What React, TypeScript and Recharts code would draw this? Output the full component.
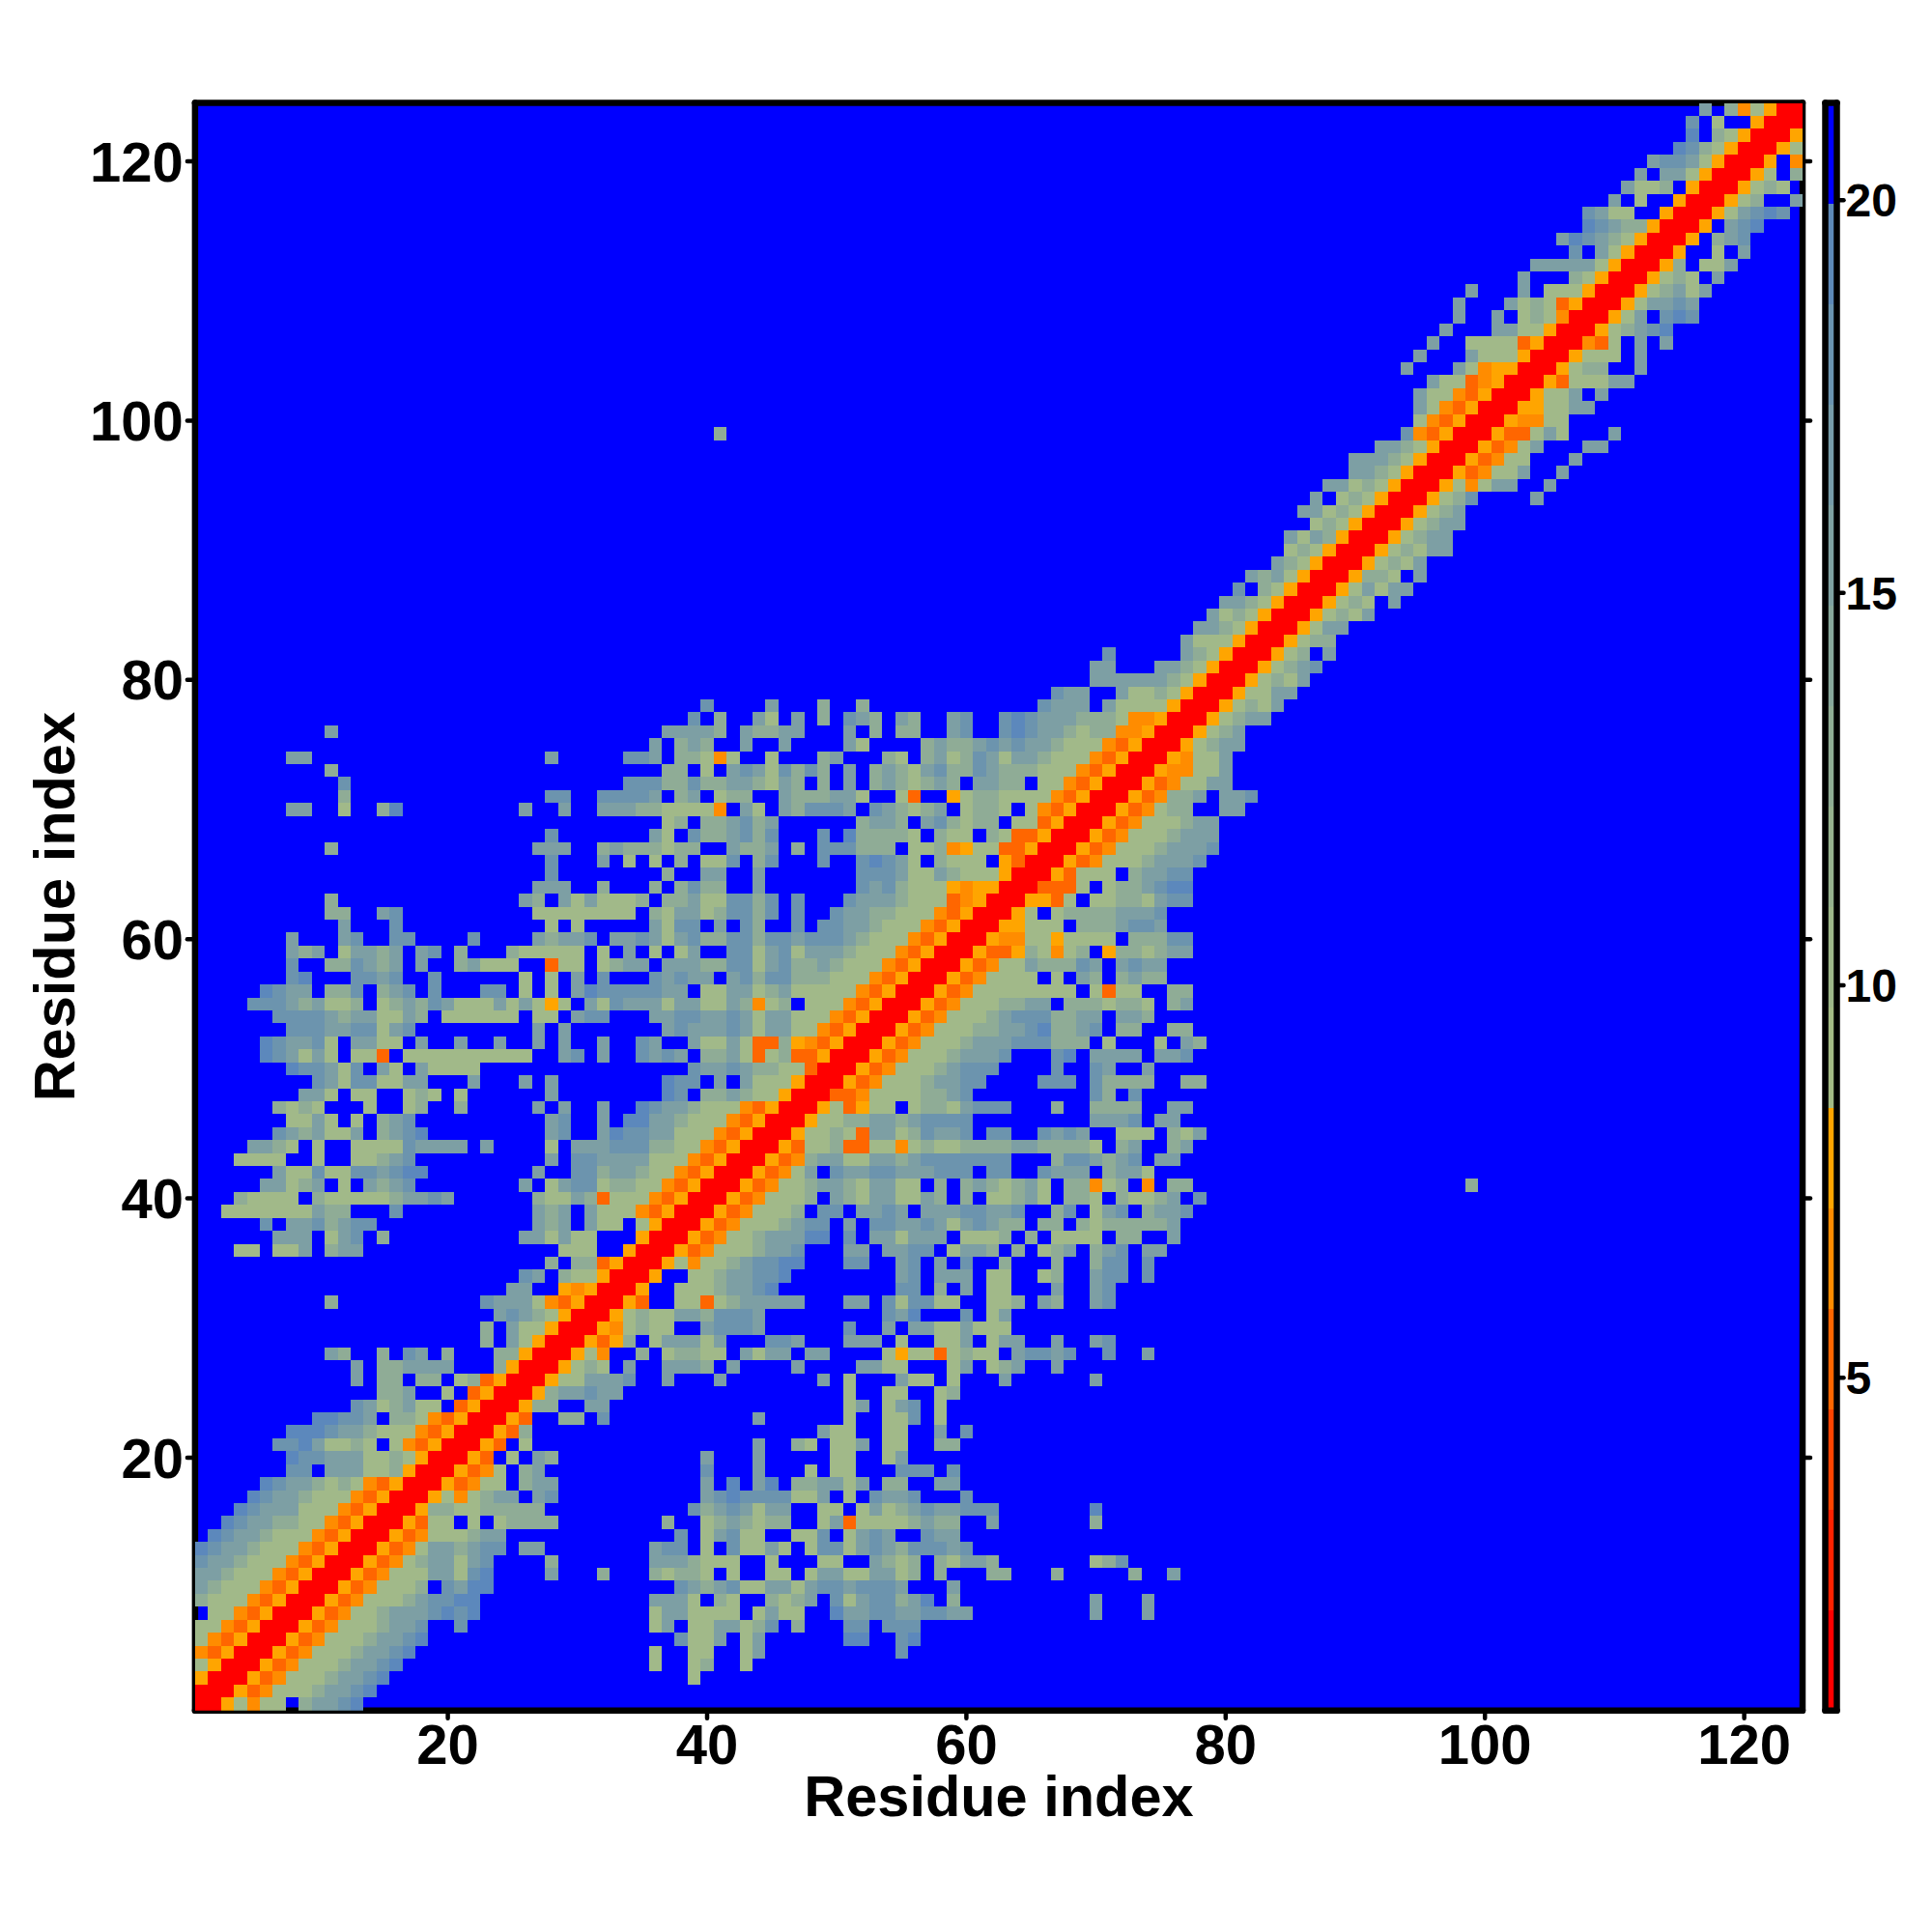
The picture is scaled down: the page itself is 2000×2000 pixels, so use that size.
import { Bar, BarChart, CartesianGrid, Scatter, ScatterChart, XAxis, YAxis } from 'recharts';

// contact map is symmetric, so only the part with x >= y is listed.
// each row is "startX:codes" runs; '.' = background, 1-5 = slate to sage, 6-9 = amber to red
const upperRows: string[] = [
  '1:9965755.43321',
  '2:9968755543321',
  '3:9968755543321 39:5',
  '4:9968755543321 36:5 39:54 43:5',
  '5:9968755543321 36:5 39:55 43:53 55:2',
  '6:9968755543321 38:2553 43:53 51:11 55:21',
  '7:996875554332 21:2 36:53.5533542.4 51:22.222',
  '8:996875543332121 36:5335555.5355 50:13322332233 70:3 74:3',
  '9:99687555432211 36:3335.45..4543.25322431.4 70:3 74:3',
  '10:996875554.2311 38:234325533532232223 59:3',
  '11:9968755533521 28:3 32:4 36:45445.5..55.533553354.4 62:44 67:4 73:4 76:3',
  '12:996875433532 28:4 36:3334555..5...55..3454.45334 70:542',
  '13:996875334322 26:33 36:322.5.25535.5225323422232',
  '14:99687555433 38:2.53255..552.5323..233',
  '15:996855.5.54444 37:4 40:5434544..53855554344 62:3 70:4',
  '16:996445544444 39:24323533..55.53543233222 70:1',
  '17:996575433.32 40:3212222553.5.2332...2',
  '18:9968755.433 40:3.1.31.443353.44..33',
  '19:996875.43 40:2 44:3 48:5 50:55 55:222 59:2',
  '20:9968.5.34 40:3 44:3 50:55 54:53',
  '21:9968.5 44:3 47:45 50:553 54:55 58:44',
  '22:99684 49:355 54:55 58:3 60:2',
  '23:9968 29:44 32:2 44:3 51:5 54:552 58:5',
  '24:99644..33 51:53 54:532 58:5',
  '25:996433233 51:5 54:55 58:54',
  '26:996553332 37:3 41:3 49:3 51:5 55:355 59:5 63:3 70:3',
  '27:996545.3 37:3334 42:3 47:3 52:3355 59:53 62:543 67:3',
  '28:99657..4.54455.3533.33....565585455.32232 71:2 74:3',
  '29:996864.533353 45:223 51:333 55:5 58:553 62:533 67:3 70:32',
  '30:99675455..32223 51:2 54:3 56:33553555',
  '31:99654553342223 54:231 60:2 62:53',
  '32:9968..5585433333 51:33 54:2522 58:55 62:554 66:34 70:32',
  '33:996..55543321 55:22 58:4 60:3 62:55 67:3 70:32',
  '34:996..55433221 55:32 58:333 62:55 66:54 70:322 74:2',
  '35:9965755432211 51:22 55:32 58:3 60:2 63:4 67:4 70:422 74:2',
  '36:996875554332 51:33 54:3322 59:5334 64:4 66:543 70:432 74:33',
  '37:9968755433311 51:2 53:335333 60:5554 65:4 67:5555 72:44 76:3',
  '38:996875554322 51:3 53:223323532344 66:44 69:45444443',
  '39:996875554.22.3323.33322332 67:42 70:532 74:4332',
  '40:996875554.345335534.4.55435.445.45543.2',
  '41:9968755433453355.4.4345435.44754.7.44 99:4',
  '42:9968753.23322333222.22..2333.4335',
  '43:996874335533432222222...4223432.33',
  '44:996855488557545544443344445.43..43',
  '45:9965545833542332.22..2323..555.453',
  '46:996554433432222 70:3332.33',
  '47:99658655.54453222...4 70:4444 76:33',
  '48:9988755554432 70:24.2',
  '49:9968755543322 66:222 70:24444 77:44',
  '50:9968755543222 67:2 70:23 74:3',
  '51:9968755543332 67:21 70:3333 75:332',
  '52:996875554333222444.5 75:5 77:34',
  '53:996875554433214432.44..44',
  '54:99687555432224433.334',
  '55:996875554433.4445445.43',
  '56:9968755555555.5855..44',
  '57:996875555.5.34.4344',
  '58:9968755344423.3233',
  '59:99688645754.6445433',
  '60:996775565555.44422',
  '61:9966555.4443223',
  '62:9965.544443332',
  '63:996685.55445322',
  '64:998885.5443211',
  '65:9968555.43322',
  '66:9968755543332',
  '67:9968755543332',
  '68:996875554333',
  '69:99687555433',
  '70:99687544..33',
  '71:99687443.332',
  '72:996875533',
  '73:99677553',
  '74:9967553',
  '75:9965433',
  '76:996543',
  '77:9965433',
  '78:9965453',
  '79:9965533',
  '80:9965453',
  '81:9965432',
  '82:99654.3',
  '83:996544',
  '84:996533',
  '85:9965453',
  '86:996545.3',
  '87:99653533',
  '88:996445.3',
  '89:9965453',
  '90:99654533',
  '91:9965433',
  '92:9965433',
  '93:996543',
  '94:996542 104:3',
  '95:99657533 105:3',
  '96:99687553..3',
  '97:9968755...3',
  '98:9968753 108:33',
  '99:99688535 110:3',
  '100:9967755',
  '101:99665533',
  '102:996553.3',
  '103:996855533',
  '104:996544..3',
  '105:996555.3',
  '106:99785.3.3',
  '107:99654321',
  '108:99653.212',
  '109:99653323',
  '110:99654353',
  '111:996545.3',
  '112:9964.553',
  '113:996..5.3',
  '114:996.432',
  '115:996.321',
  '116:99653212',
  '117:99654..3',
  '118:996545',
  '119:9965.4',
  '120:996.7',
  '121:9965',
  '122:996',
  '123:99',
  '124:9',
];

const cellColors: Record<string, string> = {
  '1': '#5c88bc',
  '2': '#6c94ae',
  '3': '#7d9fa4',
  '4': '#8fac96',
  '5': '#a1b989',
  '6': '#ffa500',
  '7': '#ff8c00',
  '8': '#ff6600',
  '9': '#ff0000',
};

const axisTicks = [20, 40, 60, 80, 100, 120];
const scaleTicks = [5, 10, 15, 20];
const scaleMin = 0.76;
const scaleMax = 21.24;
const scaleStep = 1.28;
const scaleColors = [
  '#ff0000', '#ff2200', '#ff4400', '#ff6600', '#ff8c00', '#ffa500',
  '#a3bb85', '#9db789', '#96b28e', '#8fad94', '#87a89b', '#7fa2a2',
  '#769ca9', '#6a94b0', '#5d89b8', '#0000ff',
];

const FONT = '"Liberation Sans", Arial, sans-serif';
const PLOT_LEFT = 201.9;
const PLOT_TOP = 106.6;
const PLOT_SIZE = 1664.1;
const CELL = PLOT_SIZE / 124;

type HeatCell = { x: number; y: number; code: string };

function buildCells(): HeatCell[] {
  const cells: HeatCell[] = [];
  upperRows.forEach((row, i) => {
    const y = i + 1;
    row.split(' ').forEach((segment) => {
      const [start, codes] = segment.split(':');
      codes.split('').forEach((code, j) => {
        if (code === '.') return;
        const x = Number(start) + j;
        cells.push({ x, y, code });
        if (x !== y) cells.push({ x: y, y: x, code });
      });
    });
  });
  return cells;
}

const heatCells = buildCells();
const scaleRow: Record<string, number | string> = { name: 'scale' };
scaleColors.forEach((_, i) => {
  scaleRow[`level${i}`] = i === 0 ? scaleMin + scaleStep : scaleStep;
});

const borderLine = { stroke: '#000', strokeWidth: 6.5, strokeLinecap: 'round' as const };
const tickMark = { stroke: '#000', strokeWidth: 4.5, strokeLinecap: 'round' as const };
const blank = () => '';

function HeatSquare(props: any) {
  const { cx, cy, payload } = props;
  return (
    <rect
      x={cx - CELL / 2}
      y={cy - CELL / 2}
      width={CELL}
      height={CELL}
      fill={cellColors[payload.code]}
      shapeRendering="crispEdges"
    />
  );
}

export default function App() {
  return (
    <div style={{ position: 'absolute', left: 0, top: 0, width: 2000, height: 2000, background: '#fff' }}>
      <div style={{ position: 'absolute', left: 0, top: 0 }}>
        <ScatterChart width={2000} height={2000} margin={{ top: 0, right: 0, bottom: 0, left: 0 }}>
          <CartesianGrid horizontal={false} vertical={false} fill="#0000ff" />
          <XAxis
            dataKey="x"
            type="number"
            domain={[0.5, 124.5]}
            ticks={axisTicks}
            height={2000 - PLOT_TOP - PLOT_SIZE}
            axisLine={borderLine}
            tickLine={tickMark}
            tickSize={8}
            tickMargin={6}
            allowDataOverflow
            tick={{ fill: '#000', fontSize: 58, fontWeight: 700, fontFamily: FONT }}
            label={{
              value: 'Residue index',
              position: 'insideBottom',
              offset: 120,
              fill: '#000',
              fontSize: 59.5,
              fontWeight: 700,
              fontFamily: FONT,
            }}
          />
          <XAxis
            xAxisId="top"
            orientation="top"
            type="number"
            domain={[0.5, 124.5]}
            ticks={axisTicks}
            height={PLOT_TOP}
            axisLine={borderLine}
            tickLine={tickMark}
            tickSize={8}
            tickFormatter={blank}
            allowDataOverflow
          />
          <YAxis
            dataKey="y"
            type="number"
            domain={[0.5, 124.5]}
            ticks={axisTicks}
            width={PLOT_LEFT}
            axisLine={borderLine}
            tickLine={tickMark}
            tickSize={8}
            tickMargin={4}
            allowDataOverflow
            tick={{ fill: '#000', fontSize: 58, fontWeight: 700, fontFamily: FONT }}
            label={{
              value: 'Residue index',
              angle: -90,
              position: 'insideLeft',
              offset: 56,
              fill: '#000',
              fontSize: 59.5,
              fontWeight: 700,
              fontFamily: FONT,
              style: { textAnchor: 'middle' },
            }}
          />
          <YAxis
            yAxisId="right"
            orientation="right"
            type="number"
            domain={[0.5, 124.5]}
            ticks={axisTicks}
            width={2000 - PLOT_LEFT - PLOT_SIZE}
            axisLine={borderLine}
            tickLine={tickMark}
            tickSize={8}
            tickFormatter={blank}
            allowDataOverflow
          />
          <Scatter data={heatCells} shape={HeatSquare} isAnimationActive={false} />
        </ScatterChart>
      </div>
      <div style={{ position: 'absolute', left: 1880, top: 0 }}>
        <BarChart
          width={120}
          height={2000}
          data={[scaleRow]}
          barCategoryGap={0}
          margin={{ top: 0, right: 0, bottom: 0, left: 0 }}
        >
          <XAxis
            dataKey="name"
            height={2000 - PLOT_TOP - PLOT_SIZE}
            axisLine={borderLine}
            tickLine={false}
            tickFormatter={blank}
          />
          <XAxis
            xAxisId="top"
            dataKey="name"
            orientation="top"
            height={PLOT_TOP}
            axisLine={borderLine}
            tickLine={false}
            tickFormatter={blank}
          />
          <YAxis
            type="number"
            width={9.5}
            domain={[scaleMin, scaleMax]}
            ticks={scaleTicks}
            axisLine={borderLine}
            tickLine={false}
            tickFormatter={blank}
            allowDataOverflow
          />
          <YAxis
            yAxisId="right"
            orientation="right"
            type="number"
            width={98.5}
            domain={[scaleMin, scaleMax]}
            ticks={scaleTicks}
            axisLine={borderLine}
            tickLine={tickMark}
            tickSize={7}
            tickMargin={2}
            allowDataOverflow
            tick={{ fill: '#000', fontSize: 48, fontWeight: 700, fontFamily: FONT }}
          />
          {scaleColors.map((color, i) => (
            <Bar
              key={color}
              dataKey={`level${i}`}
              stackId="scale"
              fill={color}
              shapeRendering="crispEdges"
              isAnimationActive={false}
            />
          ))}
        </BarChart>
      </div>
    </div>
  );
}
